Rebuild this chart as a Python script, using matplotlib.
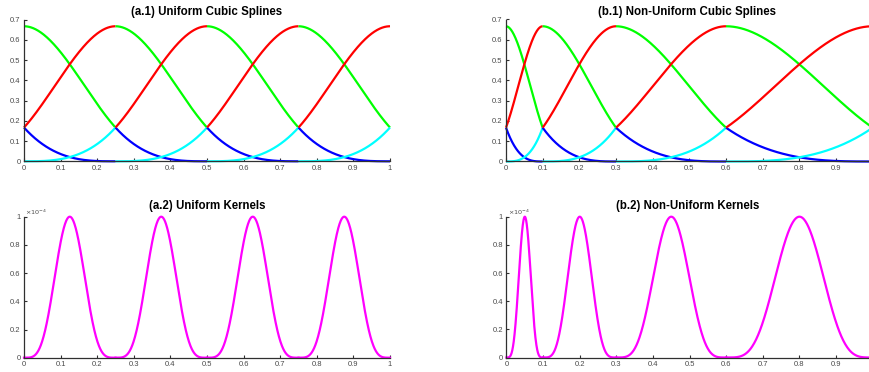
import numpy as np
import matplotlib
matplotlib.use("Agg")
import matplotlib.pyplot as plt
from matplotlib.ticker import FuncFormatter, MultipleLocator

# Knot vectors for the two spline bases
uniform_knots = [0.0, 0.25, 0.5, 0.75, 1.0]
nonuniform_knots = [0.0, 0.1, 0.3, 0.6, 1.0]

# Peak height of every kernel bump
kernel_peak = 1e-4

titles = {
    "a1": "(a.1) Uniform Cubic Splines",
    "b1": "(b.1) Non-Uniform Cubic Splines",
    "a2": "(a.2) Uniform Kernels",
    "b2": "(b.2) Non-Uniform Kernels",
}

piece_colors = ["#0000ff", "#00ff00", "#ff0000", "#00ffff"]
kernel_color = "#ff00ff"

W, H = 869, 372
fig = plt.figure(figsize=(W / 100, H / 100), dpi=100)
plt.rcParams["font.family"] = ["Liberation Sans", "DejaVu Sans"]


def box(x0, x1, ytop, ybot):
    return [x0 / W, 1 - ybot / H, (x1 - x0) / W, (ybot - ytop) / H]


AXC = "#303030"
LBL = "#4a4a4a"
TITLE_SIZE = 8.3


def style(ax, xmax):
    for s in ("top", "right"):
        ax.spines[s].set_visible(False)
    for s in ("left", "bottom"):
        ax.spines[s].set_color(AXC)
        ax.spines[s].set_linewidth(0.9)
    ax.tick_params(direction="in", length=2.5, width=0.8, color=AXC,
                   labelsize=5.5, labelcolor=LBL, pad=2.5)
    ax.set_xlim(0, xmax)
    ax.xaxis.set_major_locator(MultipleLocator(0.1))
    ax.xaxis.set_major_formatter(FuncFormatter(lambda v, p: f"{round(v, 6):g}"))


def spline_pieces(knots):
    u = np.linspace(0, 1, 200)
    pieces = [
        (1 - u) ** 3 / 6,
        (3 * u ** 3 - 6 * u ** 2 + 4) / 6,
        (-3 * u ** 3 + 3 * u ** 2 + 3 * u + 1) / 6,
        u ** 3 / 6,
    ]
    for a, b in zip(knots[:-1], knots[1:]):
        x = a + (b - a) * u
        yield x, pieces


def draw_splines(ax, knots, title, title_pad, xmax):
    for x, pieces in spline_pieces(knots):
        for y, c in zip(pieces, piece_colors):
            ax.plot(x, y, color=c, lw=1.6, solid_capstyle="butt", clip_on=False)
    style(ax, xmax)
    ax.set_ylim(0, 0.7)
    ax.yaxis.set_major_locator(MultipleLocator(0.1))
    ax.yaxis.set_major_formatter(FuncFormatter(lambda v, p: f"{round(v, 6):g}"))
    ax.set_title(title, fontsize=TITLE_SIZE, fontweight="bold", pad=title_pad)


def draw_kernels(ax, knots, title, title_pad, xmax):
    u = np.linspace(0, 1, 300)
    for a, b in zip(knots[:-1], knots[1:]):
        x = a + (b - a) * u
        y = kernel_peak * np.sin(np.pi * u) ** 4
        ax.plot(x, y, color=kernel_color, lw=1.6, clip_on=False)
    style(ax, xmax)
    ax.set_ylim(0, kernel_peak)
    ax.yaxis.set_major_locator(MultipleLocator(0.2 * kernel_peak))
    ax.yaxis.set_major_formatter(
        FuncFormatter(lambda v, p: f"{round(v / kernel_peak, 6):g}"))
    ax.text(0.003, 1.0, r"$\times10^{-4}$", transform=ax.transAxes,
            fontsize=4.6, color=LBL, ha="left", va="bottom")
    ax.set_title(title, fontsize=TITLE_SIZE, fontweight="bold", pad=title_pad)


ax_a1 = fig.add_axes(box(24, 390, 19.5, 161.3))
ax_b1 = fig.add_axes(box(506, 869, 19.5, 161.5))
ax_a2 = fig.add_axes(box(24, 390, 216.7, 357.7))
ax_b2 = fig.add_axes(box(506.5, 869, 216.7, 357.5))

draw_splines(ax_a1, uniform_knots, titles["a1"], 3.0, 1.0)
draw_splines(ax_b1, nonuniform_knots, titles["b1"], 3.0, 0.99)
draw_kernels(ax_a2, uniform_knots, titles["a2"], 5.5, 1.0)
draw_kernels(ax_b2, nonuniform_knots, titles["b2"], 5.5, 0.99)

fig.savefig("out.png", dpi=100, facecolor="white")
